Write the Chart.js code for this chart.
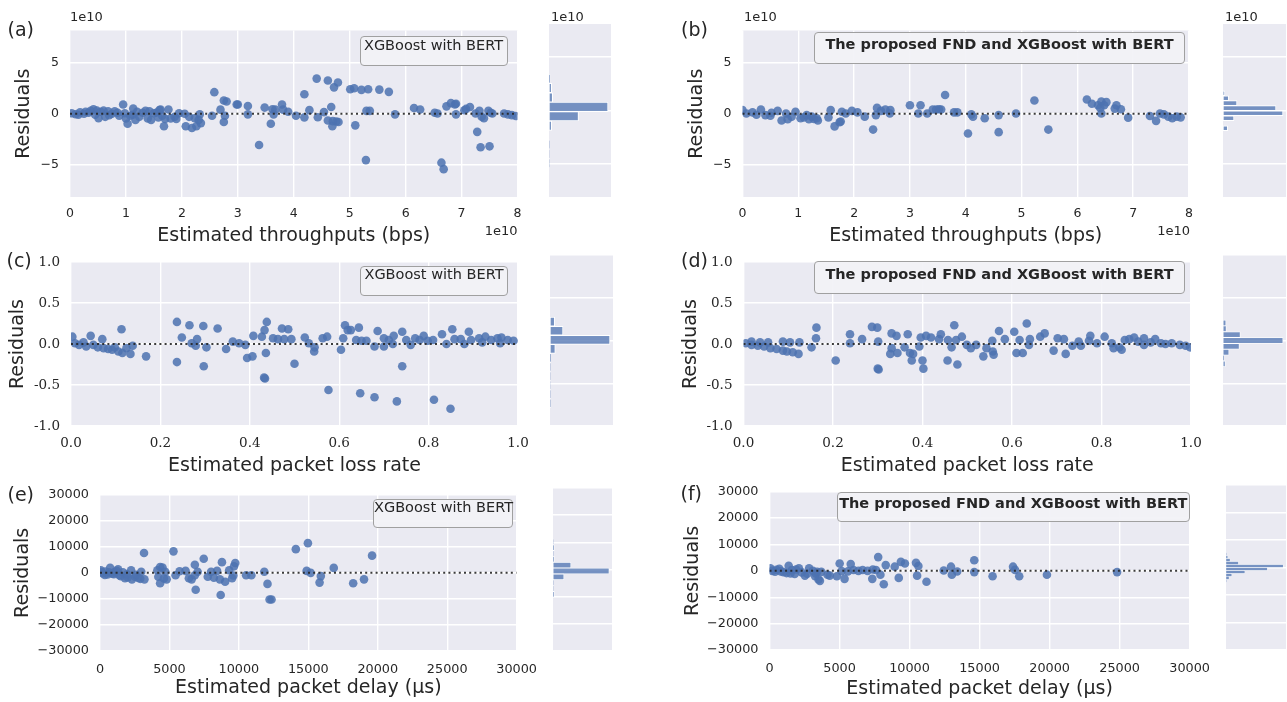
<!DOCTYPE html>
<html><head><meta charset="utf-8">
<script src="https://cdn.jsdelivr.net/npm/chart.js@4.4.0/dist/chart.umd.min.js"></script>
<style>
body{margin:0;background:#fff;width:1287px;height:702px;overflow:hidden;position:relative;font-family:'DejaVu Sans',sans-serif;color:#262626}
canvas{position:absolute}
.lab{position:absolute;font-size:19px;line-height:1;white-space:nowrap;transform:translateY(-50%)}
.off{position:absolute;font-size:13px;line-height:1;white-space:nowrap}
.box{position:absolute;background:rgba(242,242,246,0.92);border:1.2px solid #a0a0a0;border-radius:4px;box-sizing:border-box}
.box span{position:absolute;left:0;right:0;text-align:center;font-size:14.5px;line-height:1;white-space:nowrap;transform:translateY(-50%)}
</style></head><body>
<script>
// ---------- data ----------
// (a) throughput residuals, XGBoost with BERT (units of 1e10)
const thrXgb = [[0.03,0.05],[0.1,-0.05],[0.15,-0.1],[0.18,0.15],[0.25,0.0],[0.28,0.2],[0.33,0.1],[0.37,0.28],[0.42,0.44],[0.45,-0.1],[0.48,0.3],[0.51,-0.44],[0.55,0.2],[0.6,0.3],[0.63,-0.3],[0.68,0.25],[0.7,-0.15],[0.75,0.0],[0.8,0.25],[0.85,0.1],[0.88,-0.2],[0.95,0.9],[0.98,0.05],[1.0,-0.45],[1.03,-0.97],[1.08,-0.2],[1.12,-0.1],[1.13,0.5],[1.17,-0.6],[1.2,0.2],[1.24,-0.3],[1.3,0.1],[1.35,0.28],[1.39,-0.45],[1.42,0.25],[1.45,-0.6],[1.5,0.05],[1.55,0.12],[1.58,-0.35],[1.6,0.35],[1.62,0.4],[1.65,-0.2],[1.68,-1.22],[1.7,-0.5],[1.76,0.42],[1.8,-0.45],[1.87,-0.3],[1.9,-0.5],[1.95,0.05],[2.05,0.0],[2.07,-1.22],[2.13,-0.3],[2.18,-1.38],[2.23,-0.44],[2.26,-1.22],[2.3,-0.6],[2.32,-0.06],[2.34,-0.91],
[2.54,-0.2],[2.58,2.1],[2.69,0.4],[2.75,1.29],[2.8,1.19],[2.75,-0.8],[2.77,-0.2],[2.98,0.9],[3.0,0.9],[3.18,0.75],[3.18,-0.06],[3.38,-3.04],[3.48,0.6],[3.59,-0.97],[3.62,0.44],[3.67,0.4],[3.64,-0.06],[3.79,0.9],[3.81,0.4],[3.9,0.2],[4.04,-0.2],[4.19,-0.35],[4.19,1.9],[4.28,0.35],[4.41,3.42],[4.43,-0.34],[4.54,0.16],[4.61,3.23],[4.67,0.66],[4.72,2.57],[4.79,3.04],[4.61,-0.66],[4.7,-0.72],[4.76,-0.75],[4.8,-0.8],[4.69,-1.22],[5.01,2.38],[5.08,2.48],[5.1,-1.13],[5.21,2.32],[5.33,2.38],[5.29,-4.51],[5.3,0.28],[5.36,0.28],[5.53,2.35],[5.7,2.13],[5.81,-0.06],[6.15,0.56],[6.26,0.41],[6.52,0.1],[6.57,0.03],[6.64,-4.76],[6.68,-5.39],[6.73,0.72],[6.81,1.03],[6.9,0.97],[6.88,0.9],[6.9,-0.06],[7.05,0.34],[7.08,0.47],[7.15,0.66],[7.28,-1.76],[7.34,-3.26],[7.5,-3.17],[7.25,0.03],[7.32,0.28],[7.36,-0.28],[7.4,-0.44],[7.48,0.28],[7.52,0.1],[7.55,0.03],[7.76,0.03],[7.83,-0.06],[7.9,-0.13],[7.97,-0.22]];
// (b) throughput residuals, proposed FND and XGBoost with BERT (units of 1e10)
const thrFnd = [[0.0,0.35],[0.07,0.03],[0.18,0.13],[0.25,-0.1],[0.33,0.41],[0.41,-0.13],[0.5,-0.2],[0.52,0.1],[0.63,0.28],[0.7,-0.66],[0.78,0.03],[0.81,-0.53],[0.88,-0.3],[0.95,0.19],[1.04,-0.44],[1.1,-0.35],[1.15,-0.13],[1.19,-0.53],[1.24,-0.28],[1.28,-0.5],[1.33,-0.44],[1.35,-0.66],
[1.54,-0.35],[1.58,0.35],[1.65,-1.23],[1.74,-0.82],[1.78,0.19],[1.76,-0.75],[1.85,0.03],[1.96,0.28],[2.06,0.13],[2.19,-0.28],[2.34,-1.54],[2.39,-0.13],[2.41,0.57],[2.48,0.28],[2.56,0.41],[2.64,0.03],[2.65,0.35],[3.0,0.82],[3.15,0.03],[3.19,0.82],[3.31,0.03],[3.41,0.41],[3.47,0.41],[3.52,0.44],[3.56,0.41],[3.63,1.82],[3.79,0.13],[3.85,0.13],[4.1,-0.06],[4.04,-1.92],[4.13,-0.28],[4.34,-0.44],[4.59,-0.13],[4.59,-1.79],[4.9,0.03],[5.23,1.29],[5.48,-1.54],[6.17,1.38],[6.26,0.97],[6.37,0.82],[6.43,1.19],[6.48,0.82],[6.52,1.13],[6.43,0.03],[6.41,0.57],[6.67,0.5],[6.7,0.82],[6.78,0.44],[6.91,-0.38],[7.3,-0.22],[7.41,-0.69],[7.48,0.03],[7.55,-0.06],[7.63,-0.28],[7.7,-0.44],[7.78,-0.28],[7.85,-0.35]];
// (c) packet loss residuals, XGBoost with BERT
const lossXgb = [[0.003,0.09],[0.009,0.01],[0.018,-0.01],[0.028,0.02],[0.034,-0.03],[0.044,0.1],[0.05,-0.01],[0.06,-0.04],[0.07,0.06],[0.073,-0.05],[0.083,-0.06],[0.092,-0.07],[0.098,-0.04],[0.106,-0.09],[0.113,0.18],[0.115,-0.11],[0.124,-0.05],[0.133,-0.12],[0.138,-0.02],[0.168,-0.15],
[0.237,0.27],[0.237,-0.22],[0.248,0.08],[0.265,0.23],[0.27,0.01],[0.282,0.06],[0.279,-0.02],[0.296,0.22],[0.297,-0.27],[0.303,-0.04],[0.328,0.19],[0.347,-0.06],[0.362,0.03],[0.376,0.01],[0.39,-0.01],[0.394,-0.17],[0.406,-0.15],[0.408,0.1],[0.427,0.09],[0.433,0.17],[0.438,0.27],[0.436,-0.11],[0.434,-0.42],[0.432,-0.41],[0.452,0.07],[0.472,0.19],[0.486,0.18],[0.463,0.06],[0.477,0.06],[0.493,0.06],[0.5,-0.24],[0.523,0.08],[0.532,0.01],[0.544,-0.09],[0.545,-0.04],[0.563,0.07],[0.573,0.09],[0.576,-0.56],[0.604,-0.07],[0.609,0.07],[0.613,0.23],[0.619,0.17],[0.626,0.17],[0.638,0.05],[0.644,0.2],[0.647,-0.6],[0.65,0.04],[0.661,0.04],[0.679,-0.03],[0.686,0.16],[0.679,-0.65],[0.7,-0.03],[0.7,0.07],[0.711,0.05],[0.72,0.0],[0.722,0.1],[0.729,-0.7],[0.741,0.15],[0.741,-0.27],[0.75,0.05],[0.76,-0.01],[0.77,0.07],[0.78,0.05],[0.789,0.1],[0.798,0.04],[0.81,0.05],[0.812,-0.68],[0.83,0.12],[0.84,0.0],[0.849,-0.79],[0.853,0.18],[0.858,0.06],[0.872,0.06],[0.88,0.0],[0.89,0.15],[0.895,0.05],[0.913,0.07],[0.92,0.02],[0.927,0.09],[0.94,0.05],[0.954,0.07],[0.96,0.01],[0.963,0.08],[0.977,0.05],[0.99,0.04]];
// (d) packet loss residuals, proposed FND and XGBoost with BERT
const lossFnd = [[0.005,0.01],[0.018,-0.01],[0.032,-0.02],[0.046,-0.03],[0.06,-0.05],[0.074,-0.06],[0.088,-0.08],[0.097,-0.09],[0.018,0.03],[0.037,0.02],[0.055,0.02],[0.088,0.03],[0.104,0.02],[0.11,-0.1],[0.123,-0.12],[0.125,0.02],[0.152,-0.04],[0.162,0.07],[0.163,0.2],[0.206,-0.2],[0.238,0.12],[0.238,0.01],[0.265,0.06],[0.287,0.21],[0.299,0.2],[0.3,-0.3],[0.302,-0.31],[0.301,0.03],[0.328,-0.12],[0.331,-0.05],[0.331,0.13],[0.342,0.1],[0.344,-0.11],[0.36,-0.04],[0.367,0.12],[0.372,-0.11],[0.376,-0.2],[0.379,-0.12],[0.393,-0.03],[0.396,0.08],[0.4,-0.2],[0.402,-0.3],[0.408,0.1],[0.419,0.08],[0.437,0.06],[0.441,0.12],[0.456,-0.2],[0.457,0.05],[0.465,-0.04],[0.471,0.23],[0.475,0.05],[0.478,-0.25],[0.488,0.09],[0.499,-0.01],[0.508,-0.05],[0.52,-0.01],[0.536,-0.15],[0.543,-0.05],[0.556,0.04],[0.557,-0.09],[0.559,-0.13],[0.571,0.16],[0.584,0.06],[0.605,0.15],[0.61,-0.11],[0.617,0.05],[0.624,-0.11],[0.633,0.25],[0.638,-0.01],[0.64,0.06],[0.663,0.09],[0.673,0.13],[0.693,-0.08],[0.702,0.07],[0.716,0.06],[0.72,-0.12],[0.735,-0.02],[0.749,0.03],[0.754,-0.02],[0.772,0.04],[0.775,0.1],[0.79,0.01],[0.807,0.09],[0.823,0.01],[0.827,-0.05],[0.84,-0.04],[0.845,-0.07],[0.852,0.05],[0.862,0.06],[0.873,0.08],[0.882,0.03],[0.895,0.07],[0.895,-0.01],[0.91,0.02],[0.92,0.06],[0.933,0.01],[0.943,0.0],[0.957,0.01],[0.975,-0.01],[0.988,-0.02],[0.998,-0.04]];
// (e) packet delay residuals, XGBoost with BERT (µs)
const delayXgb = [[60,1000],[100,300],[200,-200],[350,-800],[400,500],[550,-600],[650,200],[730,1900],[900,-300],[1000,-500],[1050,300],[1200,800],[1300,1400],[1400,-900],[1500,-1250],[1650,200],[1800,-2100],[1950,-600],[2000,-1800],[2240,1000],[2300,-2500],[2530,-1500],[2600,-800],[2750,-2000],[2900,-2300],[2970,400],[3170,7600],[3200,-2500],[4130,1000],[4200,-1500],[4330,2250],[4330,-4000],[4500,2000],[4600,-2200],[4700,400],[4800,-2500],[5290,8250],[5440,-900],[5730,600],[6160,750],[6400,-2100],[6600,-2500],[6830,-900],[6830,3100],[6890,-6500],[7030,400],[7470,5400],[7760,-1500],[8000,400],[8200,-1900],[8430,750],[8630,-2500],[8690,-8500],[8780,4100],[9010,-3400],[9300,1000],[9510,-2100],[9600,-1000],[9650,2500],[9740,3750],[10520,-900],[10900,-900],[11830,400],[12060,-4250],[12210,-10250],[12350,-10250],[14100,9100],[14970,11400],[14880,750],[15170,0],[15900,-1250],[15810,-3750],[16830,1900],[18230,-4000],[19010,-2500],[19590,6600]];
// (f) packet delay residuals, proposed FND and XGBoost with BERT (µs)
const delayFnd = [[60,970],[200,0],[400,-300],[500,400],[700,800],[800,-200],[1000,-500],[1220,-850],[1370,1940],[1500,-1000],[1600,300],[1800,-1200],[1900,500],[2100,970],[2300,-600],[2530,-1800],[2700,-1100],[2830,970],[3100,0],[3260,-2060],[3300,-1000],[3400,-400],[3500,-3270],[3600,-3800],[3700,-400],[4140,-1450],[4300,-1800],[4810,-2060],[5010,2790],[5150,-100],[5360,-3030],[5600,-200],[5800,2550],[6000,300],[6350,0],[6650,300],[7000,0],[7340,-3030],[7380,500],[7600,300],[7760,5210],[7920,-1450],[8160,-5090],[8300,2180],[8940,1580],[9230,-2670],[9380,3390],[9670,2790],[10460,3030],[10540,-1820],[10630,1820],[11210,-4120],[12440,120],[12960,1580],[13020,-1450],[13400,-240],[14620,4000],[14620,-480],[15930,-2060],[17390,1580],[17530,360],[17830,-2060],[19810,-1450],[24820,-480]];

// histogram bin centres and counts (right-hand panels)
const histThrXgbBins = [2.98,2.1,1.22,0.34,-0.54,-1.42,-2.3,-3.18,-4.06,-4.94];
const histThrXgbCounts = [10,27,37,600,300,27,0,3,1,2];
const histThrFndBins = [1.62,1.15,0.69,0.22,-0.25,-0.72,-1.19,-1.66];
const histThrFndCounts = [17,57,140,530,600,110,0,47];
const histLossXgbBins = [0.22,0.114,0.008,-0.098,-0.204,-0.31,-0.416,-0.522,-0.628,-0.734];
const histLossXgbCounts = [47,130,600,53,7,3,2,1,3,4];
const histLossFndBins = [0.205,0.137,0.068,0.0,-0.068,-0.137,-0.205,-0.273];
const histLossFndCounts = [30,33,173,600,163,60,10,23];
const histDelayXgbBins = [10200,8050,5900,3750,1600,-550,-2700,-4850,-7000,-9150];
const histDelayXgbCounts = [2,13,3,13,180,563,110,3,2,13];
const histDelayFndBins = [4850,3770,2690,1610,530,-550,-1630,-2710,-3790,-4870];
const histDelayFndCounts = [3,17,40,123,567,410,187,57,30,3];

// ticks
const thrTicksX = [0,1,2,3,4,5,6,7,8];
const thrLabelsX = ['0','1','2','3','4','5','6','7','8'];
const thrTicksY = [-5,0,5];
const thrLabelsY = ['\u22125','0','5'];
const lossTicksX = [0,0.2,0.4,0.6,0.8,1.0];
const lossLabelsX = ['0.0','0.2','0.4','0.6','0.8','1.0'];
const lossTicksY = [-1,-0.5,0,0.5,1];
const lossLabelsY = ['-1.0','-0.5','0.0','0.5','1.0'];
const delayTicksX = [0,5000,10000,15000,20000,25000,30000];
const delayLabelsX = ['0','5000','10000','15000','20000','25000','30000'];
const delayTicksY = [-30000,-20000,-10000,0,10000,20000,30000];
const delayLabelsY = ['\u221230000','\u221220000','\u221210000','0','10000','20000','30000'];

// ---------- drawing ----------
Chart.defaults.font.family = "'DejaVu Sans', sans-serif";
Chart.defaults.color = '#262626';
Chart.defaults.animation = false;
const TS = 19, LH = TS * 1.2;
const bgPlugin = {id:'bg', beforeDraw(c){const {ctx, chartArea:a} = c; ctx.save(); ctx.fillStyle = '#EAEAF2'; ctx.fillRect(a.left, a.top, a.right - a.left, a.bottom - a.top); ctx.restore();}};
function addCanvas(l, t, w, h){const cv = document.createElement('canvas'); cv.width = w; cv.height = h; cv.style.left = l + 'px'; cv.style.top = t + 'px'; cv.style.width = w + 'px'; cv.style.height = h + 'px'; document.body.appendChild(cv); return cv;}
const grid = {color:'#ffffff', lineWidth:1.4, drawTicks:false, offset:false};

function scatterPanel(p){
  const a = p.area;
  const CL = Math.floor(p.yTitleX - LH / 2 - 1), CT = Math.floor(a.t - 12);
  const CB = Math.ceil(p.xTitleY + LH / 2 + 1), CR = Math.ceil(a.r + 26);
  const cv = addCanvas(CL, CT, CR - CL, CB - CT);
  const yW = a.l - CL, xH = CB - a.b;
  new Chart(cv, {
    type:'scatter',
    data:{datasets:[
      {type:'line', data:[{x:p.xMin, y:0}, {x:p.xMax, y:0}], borderColor:'rgba(38,38,38,0.9)', borderWidth:2, borderDash:[2, 3.2], pointRadius:0, order:0},
      {data:p.pts.map(([x, y]) => ({x, y})), backgroundColor:'rgba(76,114,176,0.85)', pointRadius:4.3, borderWidth:0, order:1}
    ]},
    options:{responsive:false, devicePixelRatio:1, animation:false,
      layout:{padding:{left:0, top:a.t - CT, right:CR - a.r, bottom:0}},
      plugins:{legend:{display:false}, tooltip:{enabled:false}},
      scales:{
        x:{type:'linear', min:p.xMin, max:p.xMax,
          afterFit:s => {s.height = xH;},
          afterBuildTicks:s => {s.ticks = p.xTicks.map(v => ({value:v}));},
          ticks:{autoSkip:false, maxRotation:0, padding:p.xPad, font:p.tickFont, callback:(v, i) => p.xLabels[i]},
          grid:grid, border:{display:false},
          title:{display:true, text:p.xTitle, font:{size:TS}, padding:{top:0, bottom:CB - p.xTitleY - LH / 2}}},
        y:{type:'linear', min:p.yMin, max:p.yMax,
          afterFit:s => {s.width = yW;},
          afterBuildTicks:s => {s.ticks = p.yTicks.map(v => ({value:v}));},
          ticks:{autoSkip:false, padding:11, font:p.tickFont, callback:(v, i) => p.yLabels[i]},
          grid:grid, border:{display:false},
          title:{display:true, text:'Residuals', font:{size:TS}, padding:{top:p.yTitleX - CL - LH / 2, bottom:0}}}
      }},
    plugins:[bgPlugin]
  });
}

function histPanel(p){
  const a = p.area;
  const CL = Math.floor(a.l) - 2, CT = Math.floor(a.t) - 2, CR = Math.ceil(a.r) + 2, CB = Math.ceil(a.b) + 2;
  const cv = addCanvas(CL, CT, CR - CL, CB - CT);
  new Chart(cv, {
    type:'bar',
    data:{datasets:[{data:p.bins.map((c, i) => ({x:p.counts[i], y:c})), backgroundColor:'rgba(76,114,176,0.75)', borderColor:'#ffffff', borderWidth:p.bw, borderSkipped:false, barPercentage:1, categoryPercentage:1}]},
    options:{indexAxis:'y', responsive:false, devicePixelRatio:1, animation:false,
      layout:{padding:{left:a.l - CL, top:a.t - CT, right:CR - a.r, bottom:CB - a.b}},
      plugins:{legend:{display:false}, tooltip:{enabled:false}},
      scales:{
        x:{type:'linear', display:false, min:0, max:Math.max(...p.counts) * 1.05},
        y:{type:'linear', offset:false, min:p.yMin, max:p.yMax,
          afterFit:s => {s.width = 0;},
          afterBuildTicks:s => {s.ticks = p.yTicks.map(v => ({value:v}));},
          ticks:{display:false}, grid:grid, border:{display:false}}
      }},
    plugins:[bgPlugin]
  });
}

const fThr = {size:12.5}, fLoss = {size:13.5, family:"'DejaVu Serif', serif"}, fDelay = {size:12.8};
const thr = {xMin:0, xMax:8, yMin:-8.1, yMax:8.1, xTicks:thrTicksX, xLabels:thrLabelsX, yTicks:thrTicksY, yLabels:thrLabelsY, tickFont:fThr, xPad:9.5, xTitle:'Estimated throughputs (bps)'};
const loss = {xMin:0, xMax:1, yMin:-1, yMax:1, xTicks:lossTicksX, xLabels:lossLabelsX, yTicks:lossTicksY, yLabels:lossLabelsY, tickFont:fLoss, xPad:9.5, xTitle:'Estimated packet loss rate'};
const dly = {xMin:0, xMax:30000, yMin:-30000, yMax:30000, xTicks:delayTicksX, xLabels:delayLabelsX, yTicks:delayTicksY, yLabels:delayLabelsY, tickFont:fDelay, xPad:11, xTitle:'Estimated packet delay (\u00b5s)'};

scatterPanel({...thr, pts:thrXgb, area:{l:70, r:517.5, t:24, b:197}, yTitleX:24, xTitleY:236});
scatterPanel({...thr, pts:thrFnd, area:{l:742.5, r:1189, t:24, b:197}, yTitleX:697, xTitleY:236});
scatterPanel({...loss, pts:lossXgb, area:{l:71, r:518, t:255, b:426}, yTitleX:18.5, xTitleY:466});
scatterPanel({...loss, pts:lossFnd, area:{l:743.5, r:1191, t:255, b:426}, yTitleX:691, xTitleY:466});
scatterPanel({...dly, pts:delayXgb, area:{l:100, r:522, t:488, b:651}, yTitleX:23.5, xTitleY:688});
scatterPanel({...dly, pts:delayFnd, area:{l:769.5, r:1195, t:485, b:650}, yTitleX:693, xTitleY:689});

histPanel({bins:histThrXgbBins, counts:histThrXgbCounts, yMin:-8.1, yMax:8.1, yTicks:thrTicksY, area:{l:549, r:611, t:24, b:197}, bw:1});
histPanel({bins:histThrFndBins, counts:histThrFndCounts, yMin:-8.1, yMax:8.1, yTicks:thrTicksY, area:{l:1223, r:1286, t:24, b:197}, bw:1});
histPanel({bins:histLossXgbBins, counts:histLossXgbCounts, yMin:-1, yMax:1, yTicks:lossTicksY, area:{l:550, r:613, t:255, b:426}, bw:1});
histPanel({bins:histLossFndBins, counts:histLossFndCounts, yMin:-1, yMax:1, yTicks:lossTicksY, area:{l:1223, r:1286, t:255, b:426}, bw:0.8});
histPanel({bins:histDelayXgbBins, counts:histDelayXgbCounts, yMin:-30000, yMax:30000, yTicks:delayTicksY, area:{l:553, r:612, t:488, b:651}, bw:0.8});
histPanel({bins:histDelayFndBins, counts:histDelayFndCounts, yMin:-30000, yMax:30000, yTicks:delayTicksY, area:{l:1226, r:1286, t:485, b:650}, bw:0.5});

// ---------- text overlays ----------
function txt(cls, s, l, t, extra){const d = document.createElement('div'); d.className = cls; d.textContent = s; d.style.left = l + 'px'; d.style.top = t + 'px'; if (extra) Object.assign(d.style, extra); document.body.appendChild(d); return d;}
[['(a)', 7.5, 29], ['(b)', 681, 29], ['(c)', 6.5, 260], ['(d)', 681, 260], ['(e)', 7.5, 494], ['(f)', 680.5, 493]].forEach(([s, l, t]) => txt('lab', s, l, t));
[[70, 16], [551, 16], [744, 16], [1225, 16]].forEach(([l, t]) => txt('off', '1e10', l, t, {transform:'translateY(-50%)'}));
[[517.5, 230], [1190, 230]].forEach(([r, t]) => txt('off', '1e10', r, t, {transform:'translate(-100%,-50%)'}));
function box(s, l, t, r, b, cy, bold){const d = document.createElement('div'); d.className = 'box'; Object.assign(d.style, {left:l + 'px', top:t + 'px', width:(r - l) + 'px', height:(b - t) + 'px'}); const sp = document.createElement('span'); sp.textContent = s; sp.style.top = (cy - t - 1.2) + 'px'; if (bold) sp.style.fontWeight = 'bold'; d.appendChild(sp); document.body.appendChild(d);}
box('XGBoost with BERT', 359.5, 36, 507.5, 66, 45, false);
box('The proposed FND and XGBoost with BERT', 814, 31.5, 1185, 63.5, 44, true);
box('XGBoost with BERT', 360, 265.5, 508, 296, 274.5, false);
box('The proposed FND and XGBoost with BERT', 814, 261, 1185, 294, 274, true);
box('XGBoost with BERT', 373, 498.5, 513, 527.5, 507, false);
box('The proposed FND and XGBoost with BERT', 836.5, 491.5, 1190, 522, 503.5, true);
</script>
</body></html>
